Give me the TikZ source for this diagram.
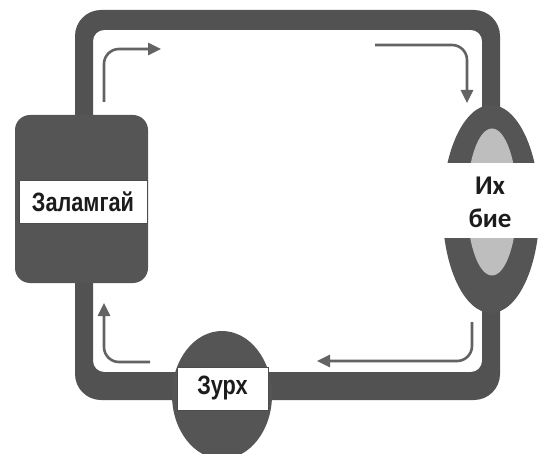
\documentclass[tikz,border=0pt]{standalone}
\usepackage{fontspec}
\setmainfont{Liberation Sans}
\newfontfamily\condfont[FakeStretch=0.82]{Liberation Sans}
\newfontfamily\bodyfont{Carlito}
\usetikzlibrary{arrows.meta,shapes.geometric}
\definecolor{tubegray}{HTML}{525252}
\definecolor{organgray}{HTML}{555555}
\definecolor{lightorgan}{HTML}{BEBEBE}
\definecolor{arrowgray}{HTML}{636363}
\definecolor{inkblack}{HTML}{1C1C1C}
\tikzset{
  tube/.style={fill=tubegray},
  flow/.style={draw=arrowgray, line width=2.6pt, rounded corners=15pt,
    -{Triangle[length=13pt,width=12pt]}},
  labelbox/.style={fill=white, draw=black!70, line width=0.6pt, inner sep=0pt},
  condlabel/.style={text=inkblack, font=\condfont\bfseries\fontsize{26.5}{26}\selectfont},
  bodylabel/.style={text=inkblack, font=\bodyfont\bfseries\fontsize{27}{33}\selectfont, align=center}
}
\begin{document}
\begin{tikzpicture}[x=1pt,y=-1pt]
\useasboundingbox (0,0) rectangle (551,454);
\fill[white] (0,0) rectangle (551,454);
% circulation tube
\fill[tube, even odd rule, rounded corners=26pt] (75,10) rectangle (500,400)
  [rounded corners=11pt] (93,30) rectangle (482,372);
% lungs
\fill[organgray, rounded corners=15pt] (15,115) rectangle (148,283);
\node[labelbox, minimum width=128pt, minimum height=43pt] (lungbox) at (83,201.5) {};
\node[condlabel] (lung) at (lungbox.center) {Заламгай};
% body
\node[ellipse, fill=organgray, minimum width=97pt, minimum height=208pt, inner sep=0pt] (body) at (491,209) {};
\node[ellipse, fill=lightorgan, minimum width=50pt, minimum height=147pt, inner sep=0pt] (bodyin) at (492,202) {};
\node[fill=white, minimum width=121pt, minimum height=75pt, inner sep=0pt] (bodybox) at (490.5,200.5) {};
\node[bodylabel] (bodytext) at (490,202) {Их\\бие};
% heart
\node[ellipse, fill=organgray, minimum width=100pt, minimum height=128pt, inner sep=0pt] (heart) at (222,395) {};
\node[labelbox, minimum width=91pt, minimum height=43pt] (heartbox) at (222.5,388.5) {};
\node[condlabel] (hearttext) at (heartbox.center) {Зурх};
% flow arrows
\coordinate (a1s) at (104,102); \coordinate (a1e) at (161,49);
\coordinate (a2s) at (375,45);  \coordinate (a2e) at (467,103);
\coordinate (a3s) at (472,322); \coordinate (a3e) at (317,361);
\coordinate (a4s) at (150,362); \coordinate (a4e) at (104,303);
\draw[flow] (a1s) |- (a1e);
\draw[flow] (a2s) -| (a2e);
\draw[flow] (a3s) |- (a3e);
\draw[flow] (a4s) -| (a4e);
\end{tikzpicture}
\end{document}
